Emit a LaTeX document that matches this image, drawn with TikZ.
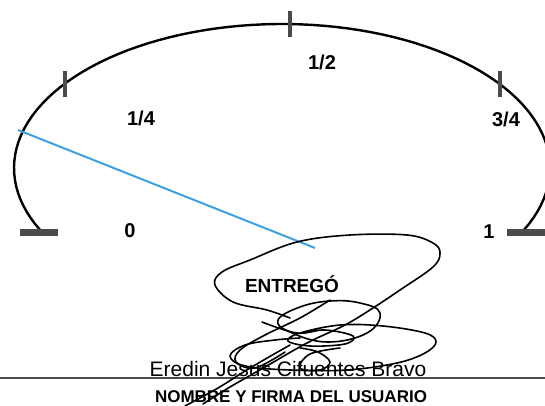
\documentclass[tikz,border=0pt]{standalone}
\usepackage{fontspec}
\setmainfont{Liberation Sans}
\usetikzlibrary{calc}
\definecolor{aguja}{RGB}{60,160,225}
\definecolor{gris}{RGB}{75,75,75}
\tikzset{
  escala/.style={font=\bfseries\fontsize{20}{24}\selectfont, anchor=base},
  rayita/.style={line width=4pt, color=gris},
  tope/.style={line width=7pt, color=gris},
  firma/.style={line width=1.6pt, line join=round, line cap=round}
}
\begin{document}
\begin{tikzpicture}[x=1pt,y=-1pt]
\useasboundingbox (0,0) rectangle (545,406);
\coordinate (c) at (282,168);
% arco del indicador
\draw[line width=2.4pt] plot[domain=154.5:385.5, samples=90] ({282+268*cos(\x)},{168+144*sin(\x)});
\foreach \t in {215.9,271.7,324.4}
  \draw[rayita] ($(c)+(\t:268 and 144)$) ++(0,-13) -- ++(0,26);
\draw[tope] (20,232) -- (58,232);
\draw[tope] (507,232) -- (545,232);
\node[escala] (cero) at (130,237) {0};
\node[escala] (cuarto) at (141,126) {1/4};
\node[escala] (medio) at (322,70) {1/2};
\node[escala] (trescuartos) at (506,127) {3/4};
\node[escala] (uno) at (489,238) {1};
% aguja
\coordinate (punta) at (18,130);
\coordinate (eje) at (315,248);
\draw[aguja, line width=2pt] (punta) -- (eje);
\node[font=\bfseries\fontsize{19}{22}\selectfont, anchor=base] (entrego) at (292,292) {ENTREGÓ};
\node[font=\fontsize{21}{24}\selectfont, anchor=base] (nombre) at (288,376) {Eredin Jesus Cifuentes Bravo};
\coordinate (izq) at (0,378);
\coordinate (der) at (545,378);
\draw[line width=2pt, color=gris] (izq) -- (der);
\node[font=\bfseries\fontsize{17}{20}\selectfont, anchor=base] (usuario) at (291,402) {NOMBRE Y FIRMA DEL USUARIO};
% firma
\draw[firma] plot[smooth, tension=0.6] coordinates {(290,318) (267,310) (233,302) (215,285) (222,272) (250,260) (297,242) (350,235) (407,235) (433,243) (440,253) (433,267) (400,290) (373,308) (345,325) (307,343) (265,367) (230,387) (203,404)};
\draw[firma] plot[smooth cycle, tension=0.7] coordinates {(278,320) (290,332) (327,342) (367,333) (380,313) (360,303) (330,301) (300,307)};
\draw[firma] plot[smooth, tension=0.6] coordinates {(262,322) (297,333) (325,330) (353,336) (345,344) (310,346) (288,341) (300,333) (340,325) (383,326) (425,333) (436,342) (425,353) (397,363) (347,370) (290,370) (245,366) (230,356) (245,345) (275,340) (300,338)};
\draw[firma] plot[smooth, tension=0.6] coordinates {(330,300) (300,318) (265,335) (240,350) (236,362) (255,368) (285,352)};
\draw[firma] plot[smooth, tension=0.6] coordinates {(300,348) (318,352) (330,362) (320,370) (300,368) (310,354) (340,348)};
\draw[firma] plot[smooth, tension=0.6] coordinates {(290,345) (250,368) (218,388) (185,406)};
\end{tikzpicture}
\end{document}
